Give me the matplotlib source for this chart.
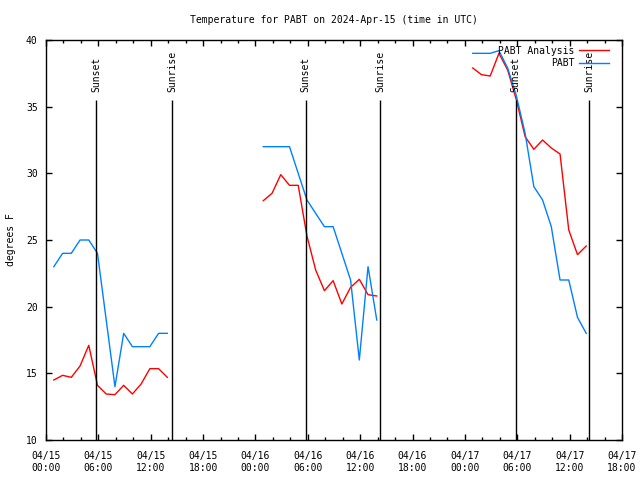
import matplotlib
matplotlib.use("Agg")
from matplotlib import pyplot as plt
from matplotlib.ticker import MultipleLocator

# hours since 2024-04-15 00:00 UTC
obs_hours = [0.9, 1.9, 2.9, 3.9, 4.9, 5.9, 6.9, 7.9, 8.9, 9.9, 10.9, 11.9, 12.9, 13.9,
             24.9, 25.9, 26.9, 27.9, 28.9, 29.9, 30.9, 31.9, 32.9, 33.9, 34.9, 35.9, 36.9, 37.9,
             48.9, 49.9, 50.9, 51.9, 52.9, 53.9, 54.9, 55.9, 56.9, 57.9, 58.9, 59.9, 60.9, 61.9]

pabt_obs = [23, 24, 24, 25, 25, 24, 19, 14, 18, 17, 17, 17, 18, 18,
            32, 32, 32, 32, 30, 28, 27, 26, 26, 24, 22, 16, 23, 19,
            39, 39, 39, 39.2, 37.9, 35.8, 33.0, 29.0, 28.0, 26.0, 22.0, 22.0, 19.2, 18.0]

pabt_analysis = [14.5, 14.85, 14.7, 15.55, 17.1, 14.1, 13.45, 13.4, 14.1, 13.45, 14.2, 15.35, 15.35, 14.7,
                 27.95, 28.5, 29.9, 29.1, 29.1, 25.3, 22.75, 21.2, 21.95, 20.2, 21.45, 22.05, 20.9, 20.8,
                 37.9, 37.4, 37.3, 39.0, 37.75, 35.5, 32.75, 31.8, 32.5, 31.9, 31.45, 25.75, 23.9, 24.55]

# split into the three days (gaps between them)
day_slices = [slice(0, 14), slice(14, 28), slice(28, 42)]

sun_events = [5.75, 14.47, 29.75, 38.32, 53.8, 62.26]
sun_labels = ['Sunset', 'Sunrise', 'Sunset', 'Sunrise', 'Sunset', 'Sunrise']

tick_hours = list(range(0, 67, 6))
tick_labels = ['04/15\n00:00', '04/15\n06:00', '04/15\n12:00', '04/15\n18:00',
               '04/16\n00:00', '04/16\n06:00', '04/16\n12:00', '04/16\n18:00',
               '04/17\n00:00', '04/17\n06:00', '04/17\n12:00', '04/17\n18:00']

red = '#ff0000'
blue = '#0080ff'

plt.rcParams['font.family'] = ['DejaVu Sans Mono']
plt.rcParams['font.size'] = 7

fig = plt.figure(figsize=(6.4, 4.8), dpi=100)
ax = fig.add_axes([46 / 640, 40 / 480, 576 / 640, 400 / 480])

for i, s in enumerate(day_slices):
    ax.plot(obs_hours[s], pabt_analysis[s], color=red, lw=1,
            label='PABT Analysis' if i == 0 else None)
    ax.plot(obs_hours[s], pabt_obs[s], color=blue, lw=1,
            label='PABT' if i == 0 else None)

for h, name in zip(sun_events, sun_labels):
    ax.vlines(h, 10, 35.5, color='black', lw=1)
    ax.text(h, 36.1, name, rotation=90, ha='center', va='bottom')

ax.set_xlim(0, 66)
ax.set_ylim(10, 40)
ax.set_xticks(tick_hours)
ax.set_xticklabels(tick_labels)
ax.xaxis.set_minor_locator(MultipleLocator(2))
ax.set_yticks(range(10, 41, 5))
ax.tick_params(which='both', direction='in', top=True, right=True, width=1)
ax.tick_params(which='major', length=4)
ax.tick_params(which='minor', length=2)
ax.tick_params(axis='x', pad=8)
ax.tick_params(axis='y', pad=6)
for sp in ax.spines.values():
    sp.set_linewidth(1)

ax.set_ylabel('degrees F', labelpad=7)
ax.set_title('Temperature for PABT on 2024-Apr-15 (time in UTC)', fontsize=7, pad=12.5)

ax.legend(loc='upper right', bbox_to_anchor=(1 - 7 / 576, 1), markerfirst=False,
          frameon=False, handlelength=3.1, handletextpad=0.5, labelspacing=0.25,
          borderpad=0, borderaxespad=0.6)

fig.savefig('out.png', dpi=100)
